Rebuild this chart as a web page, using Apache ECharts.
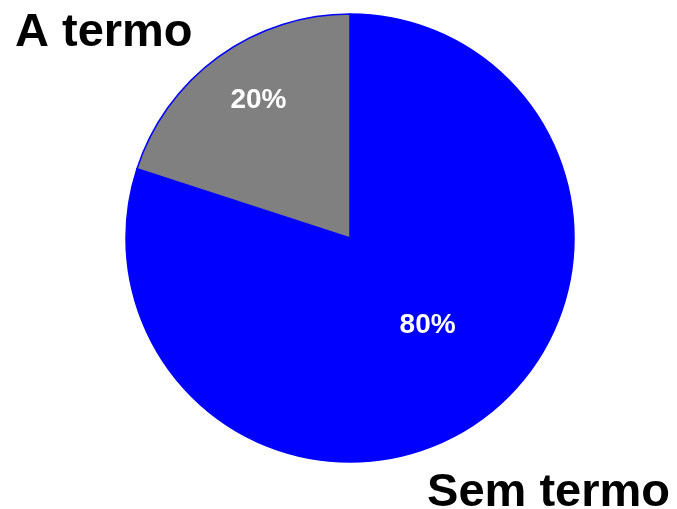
<!DOCTYPE html>
<html>
<head>
<meta charset="utf-8">
<script src="https://cdn.jsdelivr.net/npm/echarts@6/dist/echarts.min.js"></script>
<style>
  html, body { margin: 0; padding: 0; background: #fff; }
  #chart { width: 677px; height: 509px; }
</style>
</head>
<body>
<div id="chart"></div>
<script>
var categories = ['Sem termo', 'A termo'];
var values = [80, 20];
var colors = ['#0000FF', '#808080'];

var chart = echarts.init(document.getElementById('chart'));
chart.setOption({
    backgroundColor: '#ffffff',
    animation: false,
    graphic: [
        {
            type: 'text',
            left: 15,
            top: 10,
            style: {
                text: categories[1],
                font: 'bold 47px "Liberation Sans", Arial, sans-serif',
                fill: '#000'
            }
        },
        {
            type: 'text',
            right: 7,
            top: 470,
            style: {
                text: categories[0],
                font: 'bold 47px "Liberation Sans", Arial, sans-serif',
                fill: '#000'
            }
        }
    ],
    series: [
        {
            type: 'pie',
            center: [350, 238],
            radius: 224,
            startAngle: 90,
            clockwise: true,
            data: categories.map(function (c, i) {
                return { name: c, value: values[i], itemStyle: { color: colors[i] } };
            }),
            itemStyle: {
                borderColor: '#0000FF',
                borderWidth: 1.5
            },
            label: {
                show: true,
                position: 'inside',
                formatter: function (p) { return Math.round(p.percent) + '%'; },
                color: '#fff',
                fontFamily: '"Liberation Sans", Arial, sans-serif',
                fontWeight: 'bold',
                fontSize: 28
            },
            labelLayout: function (p) {
                return p.dataIndex === 1 ? { dx: -24, dy: -45 } : { dx: 10, dy: -6 };
            },
            emphasis: { disabled: true }
        }
    ]
});
</script>
</body>
</html>
